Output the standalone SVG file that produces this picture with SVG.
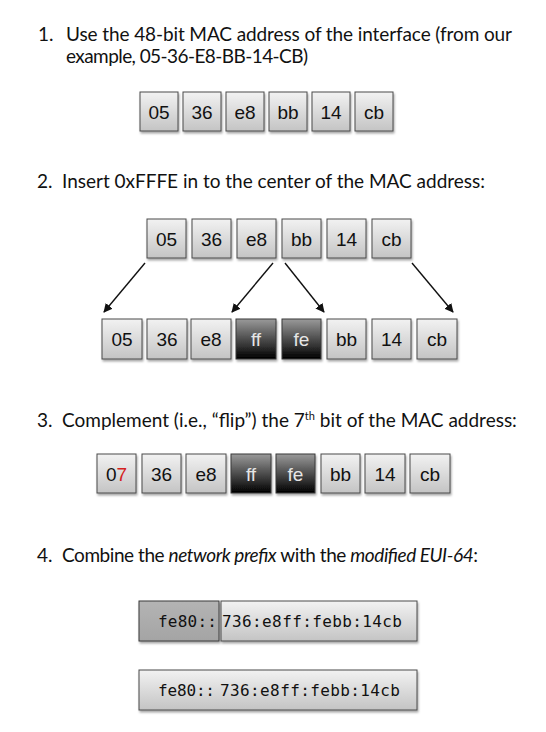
<svg xmlns="http://www.w3.org/2000/svg" width="546" height="732" viewBox="0 0 546 732">
<defs>
<linearGradient id="gLight" x1="0" y1="0" x2="0" y2="1">
<stop offset="0" stop-color="#f2f2f2"/>
<stop offset="1" stop-color="#c4c4c4"/>
</linearGradient>
<linearGradient id="gDark" x1="0" y1="0" x2="0" y2="1">
<stop offset="0" stop-color="#9a9a9a"/>
<stop offset="1" stop-color="#000000"/>
</linearGradient>
<linearGradient id="gPrefix" x1="0" y1="0" x2="0" y2="1">
<stop offset="0" stop-color="#b4b4b4"/>
<stop offset="1" stop-color="#a4a4a4"/>
</linearGradient>
<filter id="sh" x="-20%" y="-20%" width="150%" height="160%">
<feDropShadow dx="1" dy="2" stdDeviation="1.2" flood-color="#000" flood-opacity="0.35"/>
</filter>
<marker id="ah" viewBox="0 0 10 10" refX="9" refY="5" markerWidth="9" markerHeight="9" markerUnits="userSpaceOnUse" orient="auto">
<path d="M0,0 L10,5 L0,10 Z" fill="#111"/>
</marker>
</defs>
<style>
.h{font-family:Lato,"Open Sans",sans-serif;font-size:19px;fill:#111}
.b{font-family:"Liberation Sans",Arial,sans-serif;font-size:19px;text-anchor:middle;fill:#111}
.bw{font-family:"Liberation Sans",Arial,sans-serif;font-size:19px;text-anchor:middle;fill:#e6e6e6}
.m{font-family:"DejaVu Sans Mono","Liberation Mono",monospace;font-size:16px;fill:#111}
.l{fill:url(#gLight);stroke:#4a4a4a;stroke-width:1;filter:url(#sh)}
.d{fill:url(#gDark);stroke:#3a3a3a;stroke-width:1;filter:url(#sh)}
.p{fill:url(#gPrefix);stroke:#3a3a3a;stroke-width:1;filter:url(#sh)}
.c{stroke:#111;stroke-width:1.4;fill:none;marker-end:url(#ah)}
</style>
<rect width="546" height="732" fill="#fff"/>

<g id="headings">
<text class="h" x="38" y="41">1.</text>
<text class="h" x="66" y="41" textLength="446">Use the 48-bit MAC address of the interface (from our</text>
<text class="h" x="66" y="63" textLength="242">example, 05-36-E8-BB-14-CB)</text>
<text class="h" x="37" y="188">2.</text>
<text class="h" x="62" y="188" textLength="423">Insert 0xFFFE in to the center of the MAC address:</text>
<text class="h" x="37" y="427">3.</text>
<text class="h" x="62" y="427">Complement (i.e., “flip”) the 7<tspan font-size="11" dy="-7">th</tspan><tspan dy="7"> bit of the MAC address:</tspan></text>
<text class="h" x="37" y="562">4.</text>
<text class="h" x="62" y="562" textLength="416">Combine the <tspan font-style="italic">network prefix</tspan> with the <tspan font-style="italic">modified EUI-64</tspan>:</text>
</g>

<g id="row1">
<rect class="l" x="140" y="92" width="38" height="39"/><text class="b" x="159" y="118.5">05</text>
<rect class="l" x="183" y="92" width="38" height="39"/><text class="b" x="202" y="118.5">36</text>
<rect class="l" x="226" y="92" width="38" height="39"/><text class="b" x="245" y="118.5">e8</text>
<rect class="l" x="269" y="92" width="38" height="39"/><text class="b" x="288" y="118.5">bb</text>
<rect class="l" x="312" y="92" width="38" height="39"/><text class="b" x="331" y="118.5">14</text>
<rect class="l" x="355" y="92" width="38" height="39"/><text class="b" x="374" y="118.5">cb</text>
</g>

<g id="row2top">
<rect class="l" x="147" y="219" width="39" height="39"/><text class="b" x="166.5" y="245.5">05</text>
<rect class="l" x="192" y="219" width="39" height="39"/><text class="b" x="211.5" y="245.5">36</text>
<rect class="l" x="237" y="219" width="39" height="39"/><text class="b" x="256.5" y="245.5">e8</text>
<rect class="l" x="282" y="219" width="39" height="39"/><text class="b" x="301.5" y="245.5">bb</text>
<rect class="l" x="327" y="219" width="39" height="39"/><text class="b" x="346.5" y="245.5">14</text>
<rect class="l" x="372" y="219" width="39" height="39"/><text class="b" x="391.5" y="245.5">cb</text>
</g>

<g id="connectors">
<line class="c" x1="145" y1="263" x2="104" y2="312"/>
<line class="c" x1="273" y1="263" x2="232" y2="312"/>
<line class="c" x1="285" y1="263" x2="324" y2="312"/>
<line class="c" x1="412" y1="263" x2="453" y2="312"/>
</g>

<g id="row2bottom">
<rect class="l" x="102" y="319" width="40" height="40"/><text class="b" x="122" y="346">05</text>
<rect class="l" x="147" y="319" width="40" height="40"/><text class="b" x="167" y="346">36</text>
<rect class="l" x="191" y="319" width="40" height="40"/><text class="b" x="211" y="346">e8</text>
<rect class="d" x="236" y="319" width="40" height="40"/><text class="bw" x="256" y="346">ff</text>
<rect class="d" x="282" y="319" width="39" height="40"/><text class="bw" x="301.5" y="346">fe</text>
<rect class="l" x="327" y="319" width="39" height="40"/><text class="b" x="346.5" y="346">bb</text>
<rect class="l" x="372" y="319" width="39" height="40"/><text class="b" x="391.5" y="346">14</text>
<rect class="l" x="417" y="319" width="40" height="40"/><text class="b" x="437" y="346">cb</text>
</g>

<g id="row3">
<rect class="l" x="97" y="454" width="39" height="39"/><text class="b" x="116.5" y="480.5">0<tspan fill="#d42020">7</tspan></text>
<rect class="l" x="142" y="454" width="39" height="39"/><text class="b" x="161.5" y="480.5">36</text>
<rect class="l" x="186" y="454" width="40" height="39"/><text class="b" x="206" y="480.5">e8</text>
<rect class="d" x="231" y="454" width="40" height="39"/><text class="bw" x="251" y="480.5">ff</text>
<rect class="d" x="276" y="454" width="39" height="39"/><text class="bw" x="295.5" y="480.5">fe</text>
<rect class="l" x="321" y="454" width="39" height="39"/><text class="b" x="340.5" y="480.5">bb</text>
<rect class="l" x="365" y="454" width="40" height="39"/><text class="b" x="385" y="480.5">14</text>
<rect class="l" x="410" y="454" width="40" height="39"/><text class="b" x="430" y="480.5">cb</text>
</g>

<g id="row4">
<rect class="p" x="139" y="601" width="80" height="40"/>
<text class="m" x="158" y="627" textLength="59">fe80::</text>
<rect class="l" x="221" y="601" width="196" height="40"/>
<text class="m" x="222" y="627" textLength="180">736:e8ff:febb:14cb</text>
</g>

<g id="row5">
<rect class="l" x="139" y="670" width="278" height="40"/>
<text class="m" y="696"><tspan x="158" textLength="57">fe80::</tspan><tspan x="220" textLength="180">736:e8ff:febb:14cb</tspan></text>
</g>
</svg>
